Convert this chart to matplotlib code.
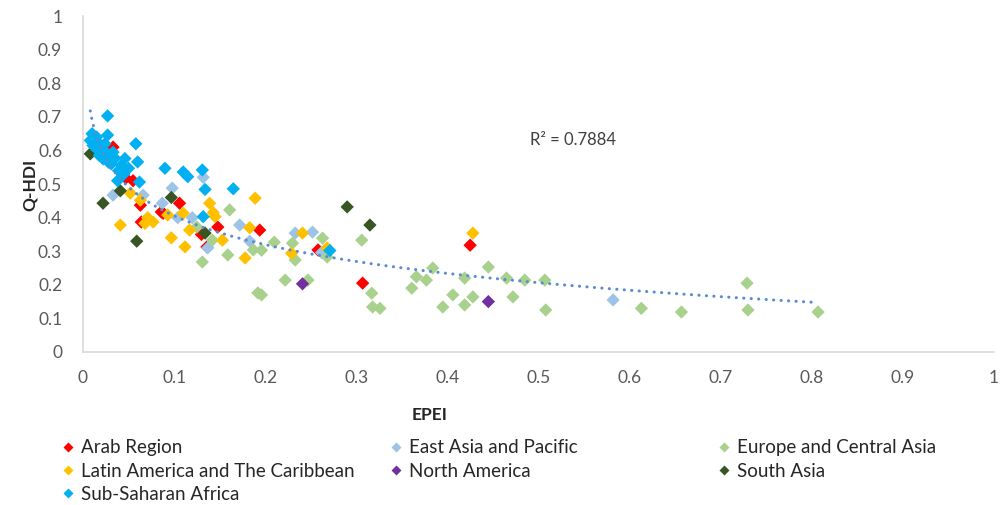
import numpy as np
import matplotlib
matplotlib.use("Agg")
import matplotlib.pyplot as plt
from matplotlib.lines import Line2D

plt.rcParams['font.family'] = ['Lato', 'DejaVu Sans']

series_names = ["Arab Region", "East Asia and Pacific", "Europe and Central Asia",
                "Latin America and The Caribbean", "North America", "South Asia",
                "Sub-Saharan Africa"]
colors = ["#FF0000", "#9DC3E6", "#A9D18E", "#FFC000", "#7030A0", "#375623", "#00B0F0"]

arab_x = [0.033, 0.055, 0.047, 0.063, 0.064, 0.086, 0.106, 0.088, 0.148, 0.194, 0.130, 0.136, 0.258, 0.307, 0.425]
arab_y = [0.610, 0.510, 0.518, 0.437, 0.387, 0.417, 0.443, 0.413, 0.372, 0.363, 0.350, 0.313, 0.304, 0.205, 0.318]

eap_x = [0.033, 0.066, 0.087, 0.098, 0.132, 0.104, 0.120, 0.172, 0.137, 0.183, 0.233, 0.252, 0.262, 0.582]
eap_y = [0.467, 0.467, 0.443, 0.488, 0.520, 0.400, 0.400, 0.378, 0.310, 0.330, 0.354, 0.357, 0.296, 0.155]

eca_x = [0.161, 0.131, 0.159, 0.187, 0.196, 0.192, 0.142, 0.125, 0.210, 0.263, 0.230, 0.233, 0.222, 0.247,
         0.196, 0.306, 0.268, 0.317, 0.318, 0.326, 0.384, 0.366, 0.377, 0.361, 0.395, 0.406, 0.419, 0.419,
         0.428, 0.445, 0.465, 0.472, 0.485, 0.507, 0.508, 0.613, 0.657, 0.729, 0.730, 0.807]
eca_y = [0.423, 0.268, 0.289, 0.304, 0.303, 0.176, 0.333, 0.372, 0.327, 0.339, 0.324, 0.274, 0.214, 0.214,
         0.170, 0.333, 0.283, 0.175, 0.134, 0.130, 0.250, 0.224, 0.214, 0.190, 0.134, 0.170, 0.220, 0.140,
         0.164, 0.253, 0.220, 0.164, 0.214, 0.214, 0.125, 0.130, 0.119, 0.205, 0.125, 0.119]

lac_x = [0.052, 0.063, 0.041, 0.071, 0.077, 0.068, 0.097, 0.093, 0.110, 0.139, 0.145, 0.143, 0.189, 0.117,
         0.112, 0.153, 0.183, 0.178, 0.241, 0.229, 0.268, 0.428]
lac_y = [0.473, 0.452, 0.378, 0.400, 0.387, 0.383, 0.340, 0.408, 0.413, 0.443, 0.403, 0.415, 0.458, 0.363,
         0.313, 0.333, 0.370, 0.280, 0.354, 0.294, 0.310, 0.354]

na_x = [0.241, 0.445]
na_y = [0.203, 0.150]

sa_x = [0.008, 0.022, 0.041, 0.059, 0.097, 0.134, 0.290, 0.315]
sa_y = [0.590, 0.443, 0.480, 0.330, 0.460, 0.354, 0.432, 0.378]

ssa_x = [0.027, 0.010, 0.027, 0.058, 0.008, 0.013, 0.020, 0.027, 0.035, 0.031, 0.042, 0.050, 0.039, 0.046,
         0.060, 0.038, 0.062, 0.016, 0.024, 0.090, 0.110, 0.115, 0.131, 0.134, 0.165, 0.132, 0.271, 0.011,
         0.018, 0.028, 0.022, 0.033, 0.045, 0.015]
ssa_y = [0.703, 0.650, 0.646, 0.620, 0.630, 0.610, 0.600, 0.590, 0.577, 0.560, 0.556, 0.547, 0.540, 0.576,
         0.566, 0.510, 0.506, 0.625, 0.620, 0.547, 0.536, 0.522, 0.542, 0.484, 0.486, 0.403, 0.302, 0.615,
         0.585, 0.565, 0.575, 0.595, 0.530, 0.640]

xs = [arab_x, eap_x, eca_x, lac_x, na_x, sa_x, ssa_x]
ys = [arab_y, eap_y, eca_y, lac_y, na_y, sa_y, ssa_y]

x_ticks = [0, 0.1, 0.2, 0.3, 0.4, 0.5, 0.6, 0.7, 0.8, 0.9, 1]
y_ticks = [0, 0.1, 0.2, 0.3, 0.4, 0.5, 0.6, 0.7, 0.8, 0.9, 1]
tick_labels = ["0", "0.1", "0.2", "0.3", "0.4", "0.5", "0.6", "0.7", "0.8", "0.9", "1"]
r2_text = "R² = 0.7884"

fig = plt.figure(figsize=(10.01, 5.05), dpi=100)
ax = fig.add_axes([0.0829, 0.303, 0.910, 0.665])

for x, y, c in zip(xs, ys, colors):
    ax.scatter(x, y, marker='D', s=46, color=c, edgecolors='none', zorder=3)

# logarithmic trendline fitted to all points
all_x = np.concatenate([np.array(v) for v in xs])
all_y = np.concatenate([np.array(v) for v in ys])
b, a = np.polyfit(np.log(all_x), all_y, 1)
tx = np.linspace(all_x.min(), all_x.max(), 400)
ax.plot(tx, a + b * np.log(tx), color="#5B8BD0", lw=2.2, linestyle=(0, (0.05, 2.4)),
        dash_capstyle='round', zorder=4)

ax.text(0.491, 0.631, r2_text, fontsize=12, color="#404040", va='center', ha='left')

ax.set_xlim(0, 1)
ax.set_ylim(0, 1)
ax.set_xticks(x_ticks)
ax.set_xticklabels(tick_labels)
ax.set_yticks(y_ticks)
ax.set_yticklabels(tick_labels)
ax.tick_params(axis='both', length=0, labelsize=12.5, labelcolor="#595959")
ax.tick_params(axis='x', pad=13)
ax.tick_params(axis='y', pad=15)
for s in ['top', 'right']:
    ax.spines[s].set_visible(False)
for s in ['left', 'bottom']:
    ax.spines[s].set_color("#D9D9D9")
    ax.spines[s].set_linewidth(1.2)

ax.set_xlabel("EPEI", fontsize=12.5, fontweight='bold', color="#262626")
ax.xaxis.set_label_coords(0.381, -0.165)
ax.set_ylabel("Q-HDI", fontsize=12.5, fontweight='bold', color="#262626")
ax.yaxis.set_label_coords(-0.050, 0.497)

# legend in three columns, row-major order as in the reference
columns = [[0, 3, 6], [1, 4], [2, 5]]
col_x = [0.060, 0.388, 0.716]
for cols, cx in zip(columns, col_x):
    handles = [Line2D([], [], marker='D', linestyle='none', markersize=5,
                      color=colors[i], markeredgecolor='none') for i in cols]
    labels = [series_names[i] for i in cols]
    fig.legend(handles, labels, loc='upper left', bbox_to_anchor=(cx, 0.130),
               frameon=False, fontsize=13.5, handlelength=0.8, handletextpad=0.3,
               labelspacing=0.33, borderaxespad=0, borderpad=0, labelcolor="#262626")

fig.savefig("out.png", dpi=100)
